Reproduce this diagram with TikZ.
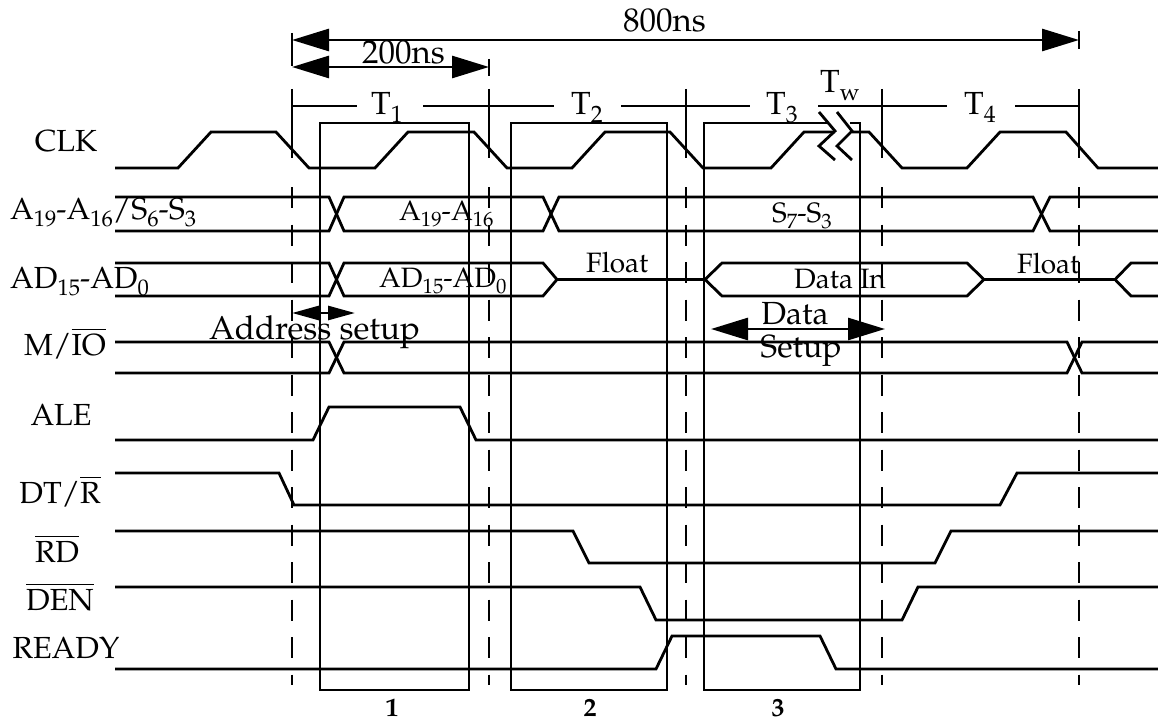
\documentclass[tikz,border=0pt]{standalone}
\usepackage[T1]{fontenc}
\usepackage{mathpazo}
\usetikzlibrary{arrows.meta}
\newcommand\lblfont{\fontsize{30.5}{36}\selectfont}
\newcommand\dimfont{\fontsize{33}{38}\selectfont}
\newcommand\tfont{\fontsize{32}{38}\selectfont}
\newcommand\inlfont{\fontsize{28}{33}\selectfont}
\newcommand\numfont{\fontsize{26}{30}\selectfont\bfseries}
\newcommand\ovl[1]{$\overline{\mbox{#1}}$}
\newcommand\sbx[1]{\raisebox{-0.24em}{\scalebox{0.74}{#1}}}
\tikzset{
  sig/.style={line width=2.8pt, line join=miter},
  guide/.style={line width=2.8pt, dash pattern=on 21pt off 16.5pt},
  lbl/.style={font=\lblfont, inner sep=0pt, anchor=base},
  lblw/.style={font=\lblfont, inner sep=0pt, anchor=base west},
  diml/.style={font=\dimfont, inner sep=0pt, anchor=base west},
  tl/.style={font=\tfont, inner sep=0pt, anchor=base west},
  inl/.style={font=\inlfont, inner sep=0pt, anchor=base west},
  num/.style={font=\numfont, inner sep=0pt, anchor=base},
  bigdim/.style={line width=2.8pt, {Triangle[length=37pt,width=22pt]}-{Triangle[length=37pt,width=22pt]}},
  smalldim/.style={line width=2.8pt, {Triangle[length=27pt,width=14pt]}-{Triangle[length=27pt,width=14pt]}}
}
\begin{document}
\begin{tikzpicture}[x=1pt,y=-1pt]
\useasboundingbox (0,0) rectangle (1158,722);

% guide lines
\foreach \gx in {292,489,686,882,1079}{
  \draw[line width=2.8pt] (\gx,89) -- (\gx,158);
  \draw[guide] (\gx,187) -- (\gx,685);
}

% dimension arrows
\coordinate (d8a) at (292,40);
\coordinate (d8b) at (1079,40);
\coordinate (d2a) at (292,67);
\coordinate (d2b) at (489,67);
\draw[line width=2.8pt] (292,33) -- (292,66);
\draw[line width=2.8pt] (1079,31) -- (1079,49);
\draw[line width=2.8pt] (489,59) -- (489,76);
\draw[bigdim] (d8a) -- (d8b);
\draw[bigdim] (d2a) -- (d2b);
\node[diml] (l800) at (623,32) {800ns};
\node[diml] (l200) at (362,64) {200ns};

% T line
\draw[sig] (292,106) -- (357,106);
\draw[sig] (423,106) -- (554,106);
\draw[sig] (621,106) -- (750,106);
\draw[sig] (818,106) -- (947,106);
\draw[sig] (1015,106) -- (1079,106);
\node[tl] (t1) at (371,115) {T\sbx{1}};
\node[tl] (t2) at (571,115) {T\sbx{2}};
\node[tl] (t3) at (766,115) {T\sbx{3}};
\node[tl] (t4) at (964,115) {T\sbx{4}};
\node[tl] (tw) at (820,93) {T\sbx{w}};

% boxes
\draw[sig] (320,123) rectangle (469,690);
\draw[sig] (511,123) rectangle (667,690);
\draw[sig] (828,123) -- (704,123) -- (704,690) -- (860,690) -- (860,123) -- (850,123);
\node[num] (n1) at (392,716) {1};
\node[num] (n2) at (590,716) {2};
\node[num] (n3) at (778,716) {3};

% CLK
\draw[sig] (115,168) -- (178,168) -- (211,132) -- (276,132) -- (309,168) -- (375,168) -- (408,132) -- (474,132) -- (507,168) -- (572,168) -- (605,132) -- (670,132) -- (703,168) -- (771,168) -- (804,132) -- (835,132);
\draw[sig] (819,112) -- (835,131) -- (819,146) -- (835,160);
\draw[sig] (837,112) -- (852,131) -- (837,146) -- (852,160);
\draw[sig] (852,132) -- (869,132) -- (902,168) -- (967,168) -- (1000,132) -- (1066,132) -- (1098,168) -- (1158,168);

% A19-A16
\draw[sig] (115,197) -- (329,197) -- (344,231) -- (543,231) -- (559,197) -- (1033,197) -- (1050,231) -- (1158,231);
\draw[sig] (115,231) -- (329,231) -- (344,197) -- (543,197) -- (559,231) -- (1033,231) -- (1050,197) -- (1158,197);

% AD
\draw[sig] (115,263) -- (329,263) -- (344,296) -- (543,296) -- (557,279.5) -- (543,263) -- (344,263) -- (329,296) -- (115,296);
\draw[sig] (557,279.5) -- (705,279.5);
\draw[sig] (705,279.5) -- (722,263) -- (967,263) -- (984,279.5) -- (967,296) -- (722,296) -- cycle;
\draw[sig] (984,279.5) -- (1115,279.5);
\draw[sig] (1158,263) -- (1131,263) -- (1115,279.5) -- (1131,296) -- (1158,296);

% M/IO
\draw[sig] (115,342) -- (329,342) -- (344,373) -- (1067,373) -- (1082,342) -- (1158,342);
\draw[sig] (115,373) -- (329,373) -- (344,342) -- (1067,342) -- (1082,373) -- (1158,373);

% ALE
\draw[sig] (115,440) -- (313,440) -- (329,407) -- (460,407) -- (476,440) -- (1158,440);
% DT/R
\draw[sig] (115,473) -- (279,473) -- (294,505) -- (1000,505) -- (1017,473) -- (1158,473);
% RD
\draw[sig] (115,531) -- (573,531) -- (589,563) -- (935,563) -- (951,531) -- (1158,531);
% DEN
\draw[sig] (115,587) -- (640,587) -- (656,620) -- (902,620) -- (918,587) -- (1158,587);
% READY
\draw[sig] (115,669) -- (656,669) -- (672,636) -- (820,636) -- (836,669) -- (1158,669);

% setup arrows
\coordinate (asa) at (292,313);
\coordinate (asb) at (355,313);
\draw[smalldim] (asa) -- (asb);
\coordinate (dsa) at (711,329);
\coordinate (dsb) at (885,329);
\draw[bigdim] (dsa) -- (dsb);

% signal labels
\node[lbl] (clk) at (66,152) {CLK};
\node[lblw] (la19) at (10,219) {A\sbx{19}-A\sbx{16}/S\sbx{6}-S\sbx{3}};
\node[lblw] (lad) at (10,288) {AD\sbx{15}-AD\sbx{0}};
\node[lbl] (lmio) at (65,355) {M/\ovl{IO}};
\node[lbl] (lale) at (61,425) {ALE};
\node[lbl] (ldtr) at (60,503) {DT/\ovl{R}};
\node[lbl] (lrd) at (57,562) {\ovl{RD}};
\node[lbl] (lden) at (60,610) {\ovl{DEN}};
\node[lbl] (lready) at (66,658) {READY};

% inner labels
\node[inl] (ia19) at (399,220) {A\sbx{19}-A\sbx{16}};
\node[inl] (iad) at (379,287) {AD\sbx{15}-AD\sbx{0}};
\node[inl] (is7) at (772,222) {S\sbx{7}-S\sbx{3}};
\node[inl] (ifl1) at (586,272) {Float};
\node[inl] (idi) at (794,288) {Data In};
\node[inl] (ifl2) at (1017,273) {Float};
\node[diml] (iaddr) at (209,339) {Address setup};
\node[font=\tfont, inner sep=0pt, anchor=base] (idata) at (795,324) {Data};
\node[font=\tfont, inner sep=0pt, anchor=base] (isetup) at (801,357) {Setup};
\end{tikzpicture}
\end{document}
